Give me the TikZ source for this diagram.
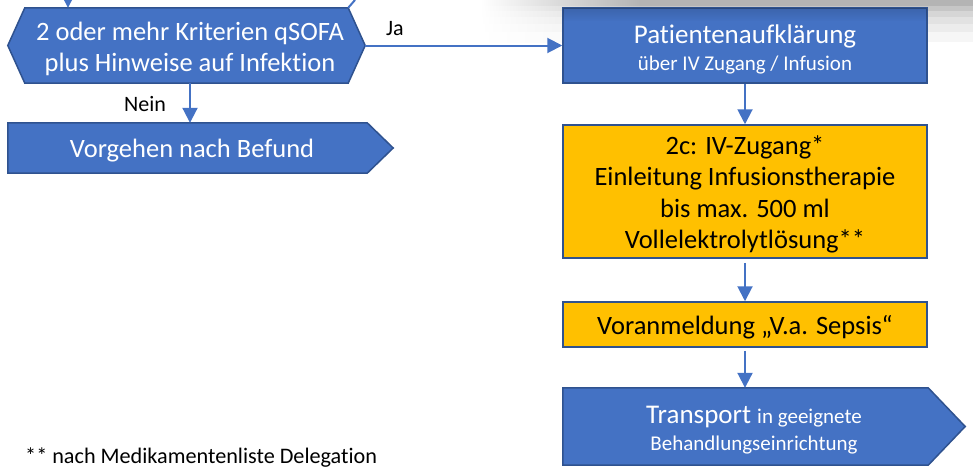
\documentclass[tikz,border=0pt]{standalone}
\usepackage{fontspec}
\setmainfont{Carlito}[Ligatures=NoCommon]
\usetikzlibrary{arrows.meta,calc,fadings}
\definecolor{boxblue}{HTML}{4472C4}
\definecolor{edgeblue}{HTML}{2F528F}
\definecolor{boxgold}{HTML}{FFC000}
\pgfdeclarelayer{haze}
\pgfdeclarelayer{shapes}
\pgfsetlayers{haze,shapes,main}
\newcommand\subtext{\fontsize{21}{27}\selectfont}

\begin{document}
\begin{tikzpicture}[x=1pt,y=-1pt,
  frame/.style={rectangle, inner sep=0pt},
  bluebox/.style={frame, draw=edgeblue, line width=1.5pt, fill=boxblue},
  goldbox/.style={frame, draw=edgeblue, line width=1.5pt, fill=boxgold},
  outline/.style={draw=edgeblue, line width=1.5pt, fill=boxblue, line join=miter},
  words/.style={inner sep=0pt, align=center, text=white,
    font=\fontsize{26.5}{31.5}\selectfont},
  darkwords/.style={words, text=black},
  link/.style={draw=boxblue, line width=2pt},
  arr/.style={link, -{Triangle[length=15pt,width=15pt]}},
  tag/.style={inner sep=0pt, font=\fontsize{22}{26}\selectfont}]

\useasboundingbox (0,0) rectangle (973,471);

% faint grey shadow along the upper right edge
\begin{pgfonlayer}{haze}
  \foreach \ya/\yb/\c in {0/6/B4B4B4, 6/11/C6C6C6, 11/17/D6D6D6,
                          17/24/E2E2E2, 24/32/ECECEC, 32/42/F6F6F6}{
    \definecolor{band}{HTML}{\c}
    \shade[left color=white, right color=band] (480,\ya) rectangle (640,\yb);
    \fill[band] (640,\ya) rectangle (973,\yb);
  }
\end{pgfonlayer}

% box frames (hexagon and arrow shapes are outlined below from these)
\node[frame, minimum width=323, minimum height=75] (hex) at (186.5,45.5) {};
\node[frame, minimum width=359, minimum height=50] (vor) at (187.5,148) {};
\node[bluebox, minimum width=364, minimum height=75] (pat) at (745,45.5) {};
\node[goldbox, minimum width=364, minimum height=133] (iv) at (745,191.5) {};
\node[goldbox, minimum width=364, minimum height=45] (pre) at (745,324.5) {};
\node[frame, minimum width=365, minimum height=77] (tr) at (745.5,426.5) {};

% outlines of the hexagon and the arrow-shaped boxes
\coordinate (hexE) at ($(hex.east)+(17,0)$);
\coordinate (hexW) at ($(hex.west)+(-17,0)$);
\begin{pgfonlayer}{shapes}
  \path[outline] (hex.north west) -- (hex.north east) -- (hexE)
    -- (hex.south east) -- (hex.south west) -- (hexW) -- cycle;
  \path[outline] (vor.north west) -- (vor.north east)
    -- ($(vor.east)+(26,0)$) -- (vor.south east) -- (vor.south west) -- cycle;
  \path[outline] (tr.north west) -- (tr.north east)
    -- ($(tr.east)+(37,0)$) -- (tr.south east) -- (tr.south west) -- cycle;
\end{pgfonlayer}

% slight shadow over the top of the first box
\fill[black, opacity=0.12, path fading=south]
  ($(pat.north west)+(0.75,0.75)$) rectangle ($(pat.north east)+(-0.75,14)$);

% box texts
\node[words] (hexT) at (190,49)
  {2 oder mehr Kriterien qSOFA\\plus Hinweise auf Infektion};
\node[words] (vorT) at (192,151) {Vorgehen nach Befund};
\node[words, font=\fontsize{27}{27}\selectfont] (patT) at (745,49)
  {Patientenaufklärung\\{\subtext über IV Zugang / Infusion}};
\node[darkwords] (ivT) at (745,194.5)
  {2c: IV-Zugang*\\Einleitung Infusionstherapie\\bis max. 500 ml\\Vollelektrolytlösung**};
\node[darkwords] (preT) at (745,327) {Voranmeldung „V.a. Sepsis“};
\node[words, font=\fontsize{27}{27}\selectfont] (trT) at (754,430.5)
  {Transport {\subtext in geeignete}\\{\subtext Behandlungseinrichtung}};

% connectors
\coordinate (inA) at (68,0);
\coordinate (inB) at (355,0);
\draw[arr] (inA) -- (inA |- hex.north);
\draw[link] (hex.north east) -- (inB);
\draw[arr] (hexE) -- (pat.west);
\draw[arr] (hexT |- hex.south) -- (hexT |- vor.north);
\draw[arr] (pat.south) -- (iv.north);
\draw[arr, shorten <=4pt] (iv.south) -- (pre.north);
\draw[arr, shorten <=3pt] (pre.south) -- (pre.south |- tr.north);

% branch labels and footnote
\node[tag] (ja) at (395,29) {Ja};
\node[tag] (nein) at (145,104) {Nein};
\node[tag, font=\fontsize{22.2}{26}\selectfont, anchor=base west] (note) at (25,463)
  {** nach Medikamentenliste Delegation};
\end{tikzpicture}
\end{document}
